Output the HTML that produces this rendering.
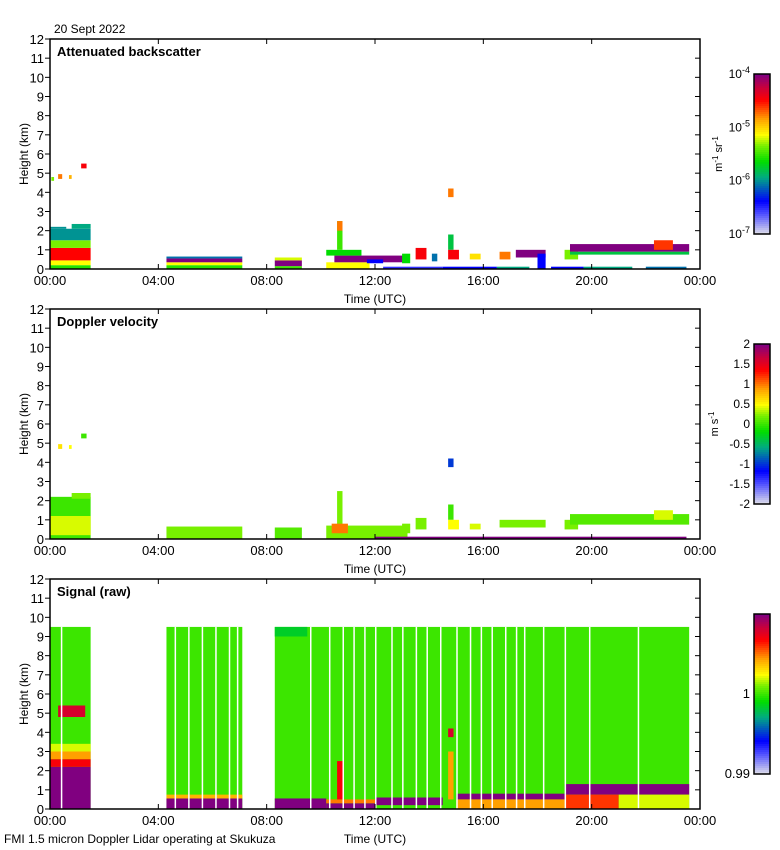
<!DOCTYPE html>
<html><head><meta charset="utf-8"><style>
body{margin:0;background:#fff;width:780px;height:850px;overflow:hidden}
svg{display:block}
text{font-family:"Liberation Sans",sans-serif;fill:#000}
</style></head><body>
<svg id="chart" width="780" height="850" xmlns="http://www.w3.org/2000/svg"></svg>
<script>
// ---- data ----
const heightTicks=[0,1,2,3,4,5,6,7,8,9,10,11,12];
const timeTicks=[0,4,8,12,16,20,24];
const timeLabels=["00:00","04:00","08:00","12:00","16:00","20:00","00:00"];
const panelTitles=["Attenuated backscatter","Doppler velocity","Signal (raw)"];
// blocks: [tStart(h), tEnd(h), hBottom(km), hTop(km), colourValue 0..1 (0=lavender,1=purple)]
const backscatterBlocks=[
[0,1.5,0,0.2,0.48],[0,1.5,0.2,0.45,0.62],[0,1.5,0.45,1.1,0.84],[0,1.5,1.1,1.5,0.55],[0,1.5,1.5,2.1,0.33],[0,0.6,2.1,2.2,0.33],[0.8,1.5,2.1,2.35,0.35],
[0.3,0.45,4.7,4.95,0.75],[0.7,0.8,4.7,4.9,0.7],[1.15,1.35,5.25,5.5,0.85],[0.05,0.15,4.6,4.8,0.55],
[4.3,7.1,0,0.2,0.48],[4.3,7.1,0.2,0.35,0.62],[4.3,7.1,0.35,0.55,1],[4.3,7.1,0.55,0.65,0.3],
[8.3,9.3,0,0.15,0.5],[8.3,9.3,0.15,0.45,1],[8.3,9.3,0.45,0.6,0.6],
[10.2,11.8,0,0.35,0.62],[10.5,13.2,0.35,0.7,1],[10.2,11.5,0.7,1.0,0.45],[10.6,10.8,1.0,2.5,0.5],[10.6,10.8,2.0,2.5,0.75],
[11.7,12.3,0.3,0.5,0.2],
[12.3,14.5,0,0.12,0.15],[13.0,13.3,0.3,0.8,0.45],[13.5,13.9,0.5,1.1,0.85],[14.1,14.3,0.4,0.8,0.3],
[14.7,14.9,3.75,4.2,0.75],[14.7,14.9,1.0,1.8,0.4],[14.7,15.1,0.5,1.0,0.85],
[14.5,16.5,0,0.12,0.2],[16.5,17.7,0,0.12,0.35],
[15.5,15.9,0.5,0.8,0.65],[16.6,17.0,0.5,0.9,0.75],[17.2,18.3,0.6,1.0,1],[18.0,18.3,0,0.8,0.2],
[19.0,19.5,0.5,1.0,0.55],[19.2,23.6,0.9,1.3,1],[19.2,23.6,0.75,0.9,0.4],[22.3,23.0,1.0,1.5,0.8],
[18.5,19.7,0,0.12,0.2],[19.7,21.5,0,0.12,0.35],[22.0,23.5,0,0.12,0.3]
];
const velocityBlocks=[
[0,1.5,0,2.2,0.5],[0,1.5,0.2,1.2,0.6],[0.8,1.5,2.1,2.4,0.55],
[0.3,0.45,4.7,4.95,0.65],[0.7,0.8,4.7,4.9,0.62],[1.15,1.35,5.25,5.5,0.5],
[4.3,7.1,0,0.65,0.55],[8.3,9.3,0,0.6,0.52],
[10.2,13.2,0,0.7,0.55],[10.6,10.8,0.7,2.5,0.55],[10.4,11,0.3,0.8,0.75],
[12.0,23.5,0,0.12,1],[13.0,13.3,0.3,0.8,0.55],[13.5,13.9,0.5,1.1,0.55],
[14.7,14.9,3.75,4.2,0.25],[14.7,14.9,1.0,1.8,0.5],[14.7,15.1,0.5,1.0,0.62],
[15.5,15.9,0.5,0.8,0.6],[16.6,18.3,0.6,1.0,0.55],
[19.0,19.5,0.5,1.0,0.55],[19.2,23.6,0.75,1.3,0.52],[22.3,23.0,1.0,1.5,0.6]
];
const signalBlocks=[
[0,1.5,0,9.5,0.5],[0,1.5,0,2.2,1],[0,1.5,2.2,2.6,0.85],[0,1.5,2.6,3.0,0.72],[0,1.5,3.0,3.4,0.6],[0.3,1.3,4.8,5.4,0.9],
[4.3,7.1,0,9.5,0.5],[4.3,7.1,0,0.55,1],[4.3,7.1,0.55,0.75,0.7],
[8.3,23.6,0,9.5,0.5],[8.3,9.5,9.0,9.5,0.42],[8.3,10.2,0,0.55,1],[10.2,12,0,0.3,1],[10.2,12,0.3,0.5,0.75],[10.6,10.8,0.5,2.5,0.85],
[12,14.5,0.2,0.6,1],[14.7,14.9,3.75,4.2,0.9],[14.7,14.9,0.5,3.0,0.72],
[15,19,0.5,0.8,1],[15,19,0,0.5,0.72],[19,23.6,0.75,1.3,1],[19,21,0,0.75,0.8],[21,23.6,0,0.75,0.6]
];
const signalGaps=[0.4,4.6,5.1,5.6,6.1,6.6,6.9,9.6,10.3,10.8,11.2,11.6,12.0,12.6,13.0,13.5,13.9,14.4,15.0,15.5,15.9,16.3,16.8,17.2,17.5,18.2,19.0,19.9,21.7];
const cbLabels=[["10","-4"],["10","-5"],["10","-6"],["10","-7"]];
const velLabels=["2","1.5","1","0.5","0","-0.5","-1","-1.5","-2"];

// ---- layout ----
const NS="http://www.w3.org/2000/svg";
const svg=document.getElementById('chart');
const X0=50,X1=700,PH=230;
const panelTops=[39,309,579];
function xs(t){return X0+t/24*(X1-X0);}
function ys(top,h){return top+PH-h/12*PH;}
function cmap(v){
  const stops=[[0,[215,215,235]],[0.12,[80,80,255]],[0.2,[0,0,255]],[0.35,[0,170,130]],[0.45,[0,220,0]],[0.55,[120,240,0]],[0.62,[255,255,0]],[0.72,[255,160,0]],[0.84,[255,0,0]],[0.92,[200,0,60]],[1,[128,0,128]]];
  for(let i=1;i<stops.length;i++){if(v<=stops[i][0]){const a=stops[i-1],b=stops[i],f=(v-a[0])/(b[0]-a[0]);
  return 'rgb('+a[1].map((c,k)=>Math.round(c+(b[1][k]-c)*f)).join(',')+')';}}
  return 'rgb(128,0,128)';
}
function el(tag,attrs,parent){const e=document.createElementNS(NS,tag);for(const k in attrs)e.setAttribute(k,attrs[k]);(parent||svg).appendChild(e);return e;}
function txt(x,y,s,attrs,parent){const t=el('text',Object.assign({x:x,y:y,'font-size':12},attrs||{}),parent);t.textContent=s;return t;}

const dataSets=[backscatterBlocks,velocityBlocks,signalBlocks];
const names=['backscatter','velocity','signal'];
panelTops.forEach((top,pi)=>{
  const g=el('g',{});
  
  
  dataSets[pi].forEach(b=>{
    const r=el('rect',{x:xs(b[0]),y:ys(top,b[3]),width:xs(b[1])-xs(b[0]),height:ys(top,b[2])-ys(top,b[3]),fill:cmap(b[4])},g);
    
    
  });
  if(pi===2){
    signalGaps.forEach(t=>{const r=el('rect',{x:xs(t),y:ys(top,9.5),width:1.5,height:ys(top,0)-ys(top,9.5),fill:'#fff'},g);
      
      });
  }
  const f=el('rect',{x:X0,y:top,width:X1-X0,height:PH,fill:'none',stroke:'#000','stroke-width':1.5},g);
  
  
  heightTicks.forEach(h=>{
    const y=ys(top,h);
    el('line',{x1:X0-5,x2:X0,y1:y,y2:y,stroke:'#000'},g);
    el('line',{x1:X1-5,x2:X1,y1:y,y2:y,stroke:'#000'},g);
    const t=txt(X0-6,y+5,String(h),{'text-anchor':'end','font-size':13},g);
    
    
  });
  timeTicks.forEach((tt,i)=>{
    const x=xs(tt);
    el('line',{x1:x,x2:x,y1:top,y2:top+5,stroke:'#000'},g);
    el('line',{x1:x,x2:x,y1:top+PH,y2:top+PH-5,stroke:'#000'},g);
    const t=txt(x,top+PH+16,timeLabels[i],{'text-anchor':'middle','font-size':13},g);
    
    
  });
  const ti=txt(57,top+17,panelTitles[pi],{'font-weight':'bold','font-size':13},g);
  
  
  const xl=txt(375,top+PH+34,'Time (UTC)',{'text-anchor':'middle'},g);
  
  
  const yl=txt(0,0,'Height (km)',{'text-anchor':'middle',transform:'translate(28,'+(top+115)+') rotate(-90)'},g);
  
  
  const cbTop=top+35,cbH=160;
  for(let i=0;i<80;i++){
    el('rect',{x:754,y:cbTop+i*2,width:16,height:2.2,fill:cmap(1-i/79)},g);
  }
  const cb=el('rect',{x:754,y:cbTop,width:16,height:cbH,fill:'none',stroke:'#000','stroke-width':1.5},g);
  
  
  if(pi===0){
    cbLabels.forEach((l,i)=>{const y=cbTop+i*cbH/3;
      const t=el('text',{x:750,y:y+4,'font-size':12,'text-anchor':'end'},g);
      t.innerHTML=l[0]+'<tspan dy="-5" font-size="9">'+l[1]+'</tspan>';
      
      });
    const u=el('text',{'font-size':11,'text-anchor':'middle',transform:'translate(722,'+(cbTop+80)+') rotate(-90)'},g);
    u.innerHTML='m<tspan dy="-4" font-size="8">-1</tspan><tspan dy="4"> sr</tspan><tspan dy="-4" font-size="8">-1</tspan>';
    
    
  } else if(pi===1){
    velLabels.forEach((l,i)=>{const t=txt(750,cbTop+i*cbH/8+4,l,{'text-anchor':'end'},g);
      
      });
    const u=el('text',{'font-size':11,'text-anchor':'middle',transform:'translate(718,'+(cbTop+80)+') rotate(-90)'},g);
    u.innerHTML='m s<tspan dy="-4" font-size="8">-1</tspan>';
    
    
  } else {
    const a=txt(750,cbTop+84,'1',{'text-anchor':'end','font-size':13},g);
    
    
    const b=txt(750,cbTop+164,'0.99',{'text-anchor':'end','font-size':13},g);
    
    
  }
});
const d=txt(54,33,'20 Sept 2022',{'font-size':12});


const ft=txt(4,843,'FMI 1.5 micron Doppler Lidar operating at Skukuza',{'font-size':12});


</script>
</body></html>
